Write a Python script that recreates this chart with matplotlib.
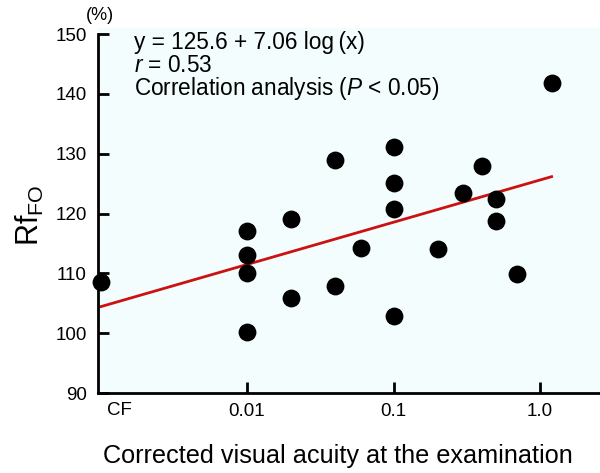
import numpy as np
import matplotlib
matplotlib.use("Agg")
import matplotlib.pyplot as plt
from matplotlib.transforms import blended_transform_factory

plt.rcParams['font.family'] = ['Liberation Sans', 'DejaVu Sans']
plt.rcParams['mathtext.fontset'] = 'custom'
plt.rcParams['mathtext.rm'] = 'Liberation Sans'
plt.rcParams['mathtext.it'] = 'Liberation Sans:italic'

# CF plotted at 0.001
acuity = [0.001, 0.01, 0.01, 0.01, 0.01, 0.02, 0.02, 0.04, 0.04, 0.06,
          0.1, 0.1, 0.1, 0.1, 0.2, 0.3, 0.4, 0.5, 0.5, 0.7, 1.2]
rf_fo = [108.6, 117.1, 113.1, 110.1, 100.2, 119.0, 105.8, 129.0, 107.9, 114.2,
         131.1, 125.1, 120.8, 102.8, 114.0, 123.5, 128.0, 122.5, 118.8, 109.9, 141.8]
intercept, slope = 125.6, 7.06
fit_x = [0.001, 1.2]
xtick_vals = [0.01, 0.1, 1.0]
xtick_labels = ['0.01', '0.1', '1.0']
ytick_vals = [90, 100, 110, 120, 130, 140, 150]

fig = plt.figure(figsize=(6.0, 4.73), dpi=100)
W, H = 600, 473
left_px, right_px, top_px, bottom_px = 98, 600, 28, 393
ax = fig.add_axes([left_px / W, 1 - bottom_px / H, (right_px - left_px) / W, (bottom_px - top_px) / H])
ax.set_facecolor('#f4fdfd')

ax.set_xscale('log')
dec = 146.5
ax.set_xlim(10 ** (-2 - (247 - left_px) / dec), 10 ** ((right_px - 540) / dec))
ax.set_ylim(90, 90 + (bottom_px - top_px) / 5.983)

fx = np.array(fit_x)
ax.plot(fx, intercept + slope * np.log10(fx), color='#cc1111', lw=2, zorder=2)
ax.scatter(acuity, rf_fo, s=165, color='black', zorder=3, clip_on=False, linewidths=0)

for s in ['top', 'right']:
    ax.spines[s].set_visible(False)
ax.spines['left'].set_bounds(90, 150)
for s in ['left', 'bottom']:
    ax.spines[s].set_linewidth(2)

ax.set_yticks(ytick_vals)
ax.set_xticks(xtick_vals)
ax.set_xticklabels(xtick_labels)
ax.xaxis.set_minor_locator(matplotlib.ticker.NullLocator())
ax.tick_params(axis='both', direction='in', length=8, width=2, labelsize=13.5)
ax.tick_params(axis='y', pad=8)
ax.tick_params(axis='x', pad=7)

trans = blended_transform_factory(ax.transData, ax.transAxes)
ax.text(10 ** (-2 - (247 - 119) / dec), -0.026, 'CF', transform=trans, ha='center', va='top', fontsize=13.5)

fig.text(100 / W, 1 - 15 / H, '(%)', ha='center', va='center', fontsize=13)

fig.text(30 / W, 1 - 215 / H, r'Rf$_{\mathregular{FO}}$', rotation=90, ha='center', va='center', fontsize=22)
fig.text(338 / W, 1 - 456 / H, 'Corrected visual acuity at the examination', ha='center', va='center', fontsize=18.2)

fs = 16.3
fig.text(134 / W, 1 - 42 / H, 'y = 125.6 + 7.06 log\u2009(x)', ha='left', va='center', fontsize=fs)
fig.text(134 / W, 1 - 65 / H, r'$\it{r}$ = 0.53', ha='left', va='center', fontsize=fs)
fig.text(134 / W, 1 - 88 / H, r'Correlation analysis ($\it{P}$ < 0.05)', ha='left', va='center', fontsize=fs)

fig.savefig('out.png', dpi=100)
